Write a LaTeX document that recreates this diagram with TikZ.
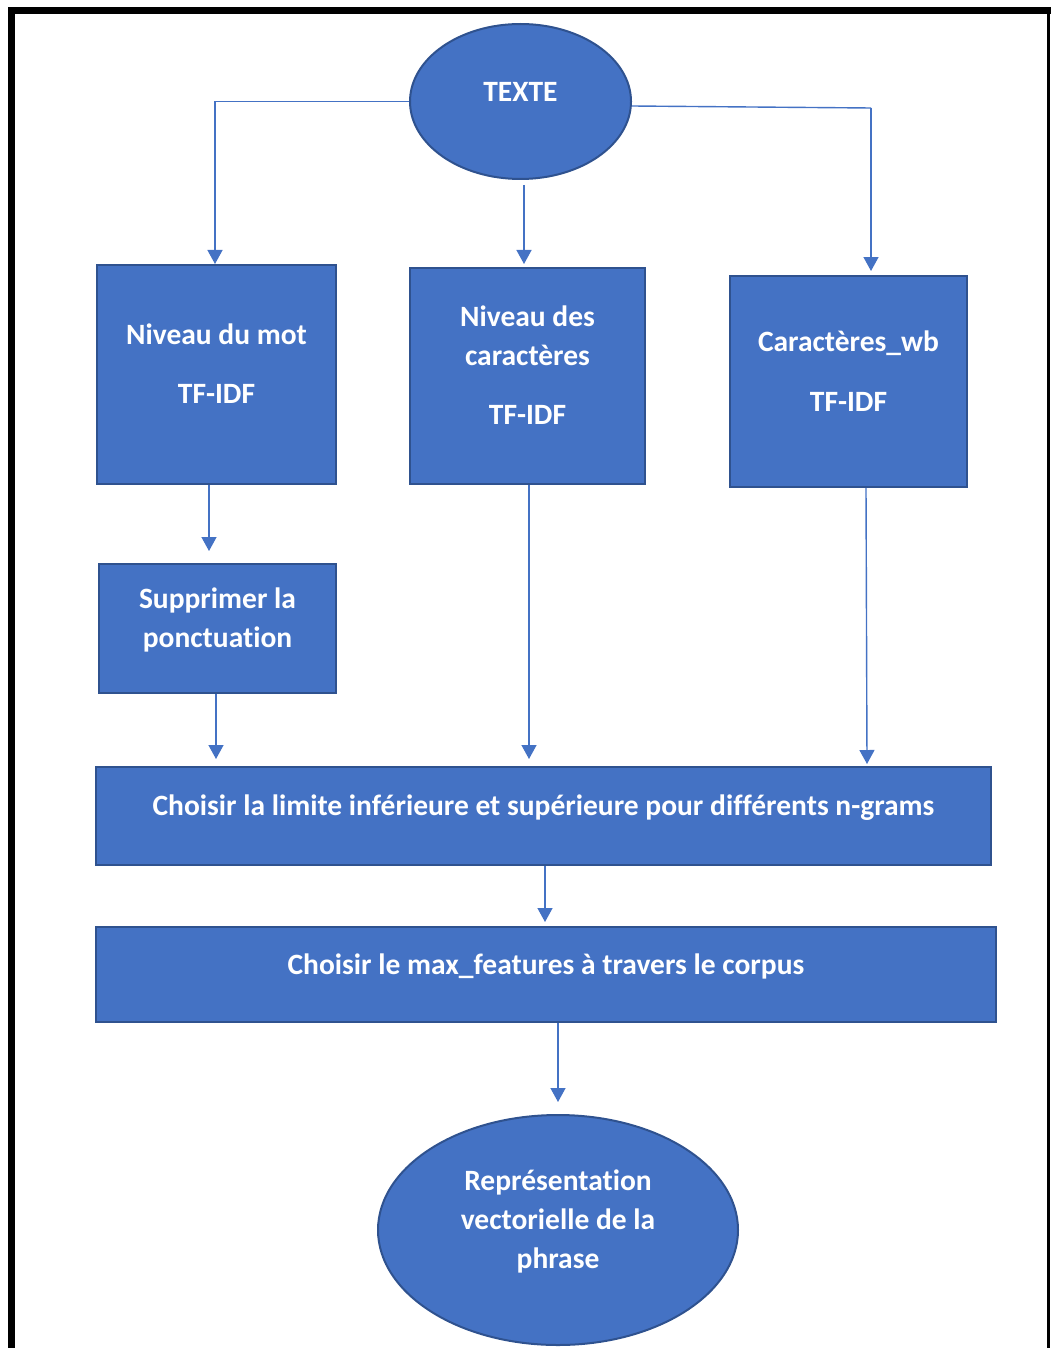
\documentclass[tikz,border=0pt]{standalone}
\usepackage{fontspec}
\setmainfont{Carlito}[Ligatures=NoCommon]
\usetikzlibrary{shapes.geometric,arrows.meta,positioning}
\definecolor{fillblue}{HTML}{4472C4}
\definecolor{edgeblue}{HTML}{2F528F}
\newcommand{\TT}[1]{\raisebox{2pt}[0pt][0pt]{\begin{tabular}{@{}c@{}}#1\end{tabular}}}
\tikzset{
  box/.style={draw=edgeblue, line width=2pt, fill=fillblue, rectangle, inner sep=0pt,
    text=white, font=\fontsize{29.5}{39}\selectfont\bfseries},
  ell/.style={box, ellipse},
  arr/.style={draw=fillblue, line width=1.4pt, -{Triangle[width=15pt,length=14pt]}},
  conn/.style={draw=fillblue, line width=1.4pt}
}
\begin{document}
\begin{tikzpicture}[x=1pt,y=-1pt]
\useasboundingbox (0,0) rectangle (1051,1348);
% frame
\fill[black] (8,7) rectangle (15,1348);
\fill[black] (8,7) rectangle (1051,14);
\fill[black] (1047,7) rectangle (1050,1348);
% nodes
\node[ell, minimum width=221pt, minimum height=155pt] (texte) at (520.5,101.5) {\TT{TEXTE}};
\node[box, minimum width=239pt, minimum height=219pt] (b1) at (216.5,374.5) {\TT{Niveau du mot\\[20pt]TF-IDF}};
\node[box, minimum width=235pt, minimum height=216pt] (b2) at (527.5,376) {\TT{Niveau des\\caractères\\[20pt]TF-IDF}};
\node[box, minimum width=237pt, minimum height=211pt] (b3) at (848.5,381.5) {\TT{Caractères\_wb\\[21pt]TF-IDF}};
\node[box, minimum width=237pt, minimum height=129pt] (b4) at (217.5,628.5) {\TT{Supprimer la\\ponctuation}};
\node[box, minimum width=895pt, minimum height=98pt] (b5) at (543.5,816) {\TT{Choisir la limite inférieure et supérieure pour différents n-grams}};
\node[box, minimum width=900pt, minimum height=95pt] (b6) at (546,974.5) {\TT{Choisir le max\_features à travers le corpus}};
\node[ell, minimum width=360pt, minimum height=230pt] (rep) at (558,1230) {\TT{Représentation\\vectorielle de la\\phrase}};
% connectors
\coordinate (cl) at (215,101.5);
\coordinate (cr) at (871,108);
\draw[conn] (texte.west) -- (cl);
\draw[arr] (cl) -- (cl |- b1.north);
\draw[conn] ([yshift=-4.5pt]texte.east) -- (cr);
\draw[arr] (cr) -- ([yshift=4pt]cr |- b3.north);
\draw[arr] ([xshift=3.5pt,yshift=-5pt]texte.south) -- ([xshift=3.5pt,yshift=3pt]texte.south |- b2.north);
\draw[arr] ([xshift=-7.5pt]b1.south) -- ([xshift=-7.5pt,yshift=12pt]b1.south |- b4.north);
\draw[arr] ([xshift=-1.5pt]b4.south) -- ([xshift=-1.5pt,yshift=7pt]b4.south |- b5.north);
\draw[arr] ([xshift=1.5pt]b2.south) -- ([xshift=1.5pt,yshift=7pt]b2.south |- b5.north);
\draw[arr] ([xshift=17.5pt]b3.south) -- ([xshift=18.5pt,yshift=2pt]b3.south |- b5.north);
\draw[arr] ([xshift=1.5pt]b5.south) -- ([xshift=1.5pt,yshift=4pt]b5.south |- b6.north);
\draw[arr] (b6.south -| rep.north) -- ([yshift=12pt]rep.north);
\end{tikzpicture}
\end{document}
